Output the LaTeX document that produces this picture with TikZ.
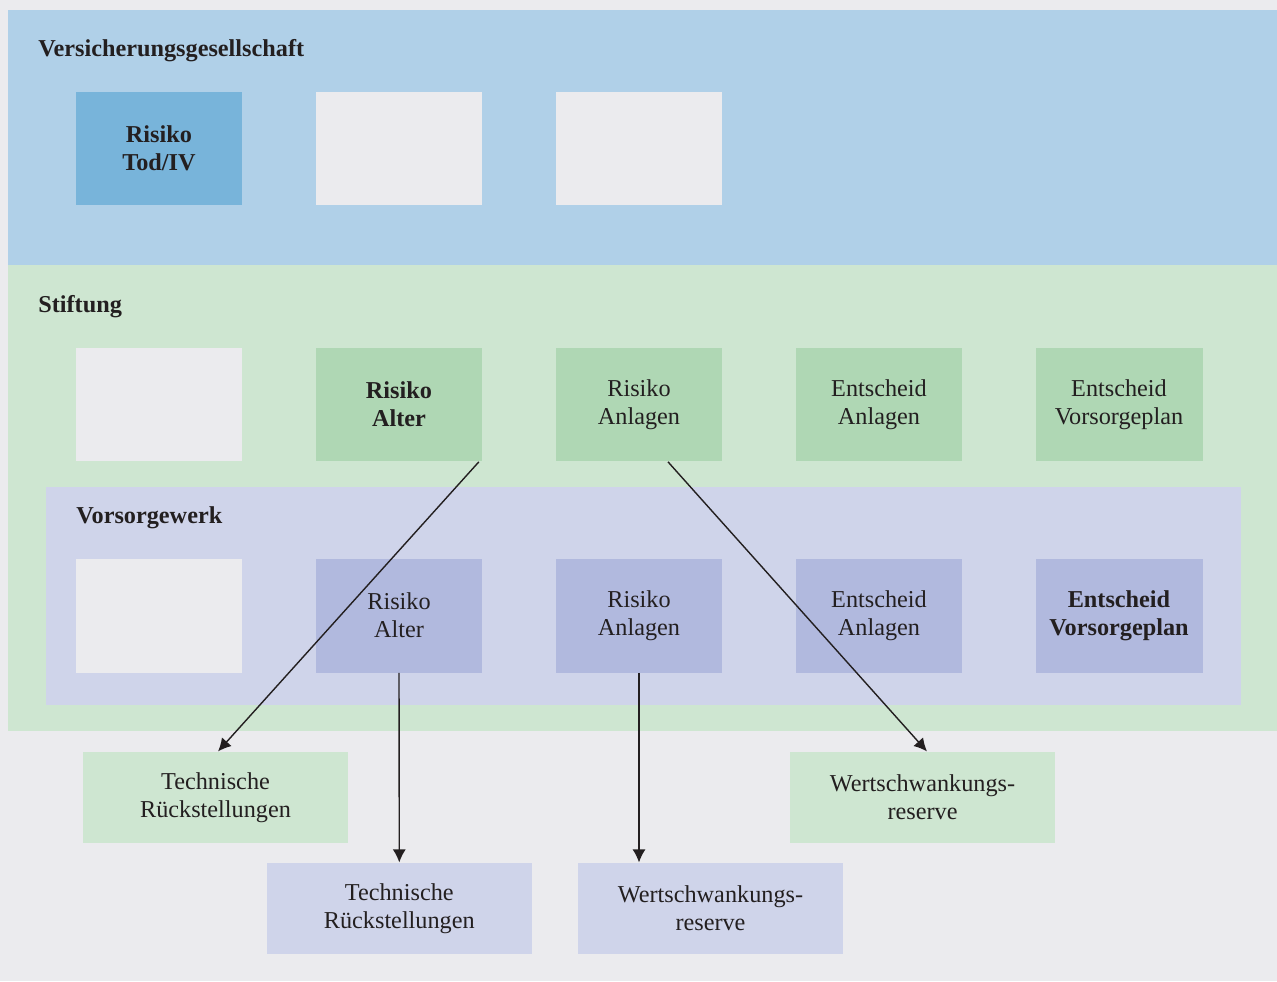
\documentclass[tikz,border=0pt]{standalone}
\usepackage{fontspec}
\setmainfont{Liberation Serif}
\usetikzlibrary{arrows.meta}
\definecolor{bggray}{HTML}{EBEBEE}
\definecolor{bandblue}{HTML}{B0D0E8}
\definecolor{boxblue}{HTML}{78B4DA}
\definecolor{bandgreen}{HTML}{CEE6D1}
\definecolor{boxgreen}{HTML}{AFD7B4}
\definecolor{bandlila}{HTML}{CFD4EA}
\definecolor{boxlila}{HTML}{B1B9DE}
\definecolor{inkcol}{HTML}{231F20}
\begin{document}
\begin{tikzpicture}[x=0.02cm,y=-0.02cm,
    every node/.style={text=inkcol},
    box/.style={minimum width=3.34cm,minimum height=2.28cm,inner sep=0pt,align=center,
      font=\fontsize{13.8}{16}\selectfont},
    result/.style={box,minimum width=5.3cm,minimum height=1.82cm},
    title/.style={anchor=base west,inner sep=0pt,font=\fontsize{13.8}{16}\selectfont\bfseries},
    link/.style={-{Latex[length=0.26cm,width=0.26cm]},line width=0.8pt,draw=inkcol}]
  \fill[bggray] (0,0) rectangle (1277,981);
  \fill[bandblue] (8,10) rectangle (1277,265);
  \fill[bandgreen] (8,265) rectangle (1277,731);
  \fill[bandlila] (46,487) rectangle (1241,705);

  \node[title] (vg) at (38,56) {Versicherungsgesellschaft};
  \node[title] (st) at (38,312) {Stiftung};
  \node[title] (vw) at (76,523) {Vorsorgewerk};

  % Versicherungsgesellschaft
  \node[box,fill=boxblue,font=\fontsize{13.8}{16}\selectfont\bfseries] (vt) at (159,148.5) {Risiko\\Tod/IV};
  \node[box,fill=bggray] (v2) at (399,148.5) {};
  \node[box,fill=bggray] (v3) at (639,148.5) {};

  % Stiftung
  \node[box,fill=bggray] (s1) at (159,404.5) {};
  \node[box,fill=boxgreen,font=\fontsize{13.8}{16}\selectfont\bfseries] (sa) at (399,404.5) {Risiko\\Alter};
  \node[box,fill=boxgreen] (sn) at (639,404.5) {Risiko\\Anlagen};
  \node[box,fill=boxgreen] (se) at (879,404.5) {Entscheid\\Anlagen};
  \node[box,fill=boxgreen] (sp) at (1119,404.5) {Entscheid\\Vorsorgeplan};

  % Vorsorgewerk
  \node[box,fill=bggray] (w1) at (159,615.5) {};
  \node[box,fill=boxlila] (wa) at (399,615.5) {Risiko\\Alter};
  \node[box,fill=boxlila] (wn) at (639,615.5) {Risiko\\Anlagen};
  \node[box,fill=boxlila] (we) at (879,615.5) {Entscheid\\Anlagen};
  \node[box,fill=boxlila,font=\fontsize{13.8}{16}\selectfont\bfseries] (wp) at (1119,615.5) {Entscheid\\Vorsorgeplan};

  \node[result,fill=bandgreen] (tg) at (215.5,797.3) {Technische\\Rückstellungen};
  \node[result,fill=bandgreen] (rg) at (922.5,797.3) {Wertschwankungs-\\reserve};
  \node[result,fill=bandlila] (tl) at (399.3,908.3) {Technische\\Rückstellungen};
  \node[result,fill=bandlila] (rl) at (710.5,908.3) {Wertschwankungs-\\reserve};

  \draw[link] ([xshift=-0.08cm]sa.south east) -- ([xshift=0.05cm]tg.north);
  \draw[link] ([xshift=0.58cm]sn.south) -- ([xshift=0.09cm]rg.north);
  \draw[link] (wa.south) -- (tl.north);
  \draw[link] (wn.south) -- (wn.south |- rl.north);
\end{tikzpicture}
\end{document}
